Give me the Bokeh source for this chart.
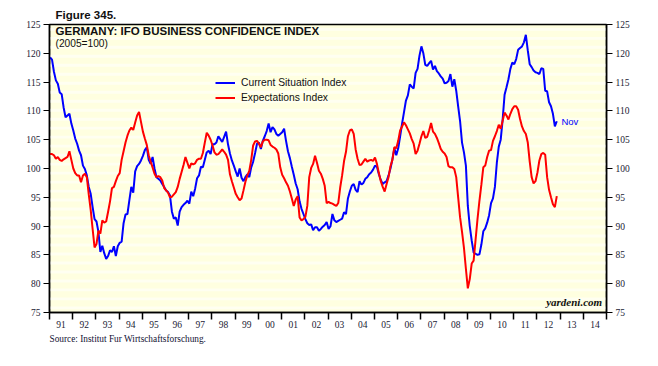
import numpy as np
from bokeh.plotting import figure
from bokeh.models import (LinearAxis, FixedTicker, Range1d, Label, Legend,
                          LegendItem, Title)
from bokeh.embed import file_html
from bokeh.resources import INLINE

start_year = 1991

current_situation = [
    119.3, 118.9, 116.8, 115.3, 114.7, 113.2, 112.9, 110.6, 108.9, 109.2, 109.5, 107.8,  # 1991
    106.6, 105.2, 104.3, 103.1, 102.3, 100.5, 99.9, 98.8, 96.8, 95.6, 93.3, 91.2,       # 1992
    90.8, 89.0, 85.5, 86.6, 85.3, 84.3, 84.8, 85.8, 85.5, 86.5, 84.8, 86.5,             # 1993
    87.1, 87.3, 90.5, 92.0, 92.1, 94.5, 96.8, 95.8, 99.5, 100.4, 100.8, 101.4,          # 1994
    102.2, 103.2, 103.7, 101.5, 100.8, 102.0, 100.0, 98.5, 98.2, 97.9, 97.3, 96.8,      # 1995
    96.2, 95.9, 95.3, 92.5, 91.3, 91.5, 90.1, 92.5, 93.3, 93.7, 94.0, 94.4,             # 1996
    93.9, 96.0, 95.2, 96.5, 98.3, 98.8, 100.3, 100.2, 101.5, 102.8, 103.1, 102.5,       # 1997
    104.2, 104.2, 104.5, 105.6, 105.1, 104.6, 105.5, 106.4, 104.2, 102.6, 101.4, 100.5, # 1998
    99.5, 98.6, 100.0, 98.4, 97.8, 98.5, 99.0, 98.5, 100.2, 101.2, 102.7, 104.3,        # 1999
    104.5, 103.4, 104.8, 105.6, 106.5, 107.8, 106.3, 107.2, 106.8, 106.0, 105.7, 106.0, # 2000
    106.3, 106.9, 104.8, 103.0, 101.8, 100.3, 98.9, 97.4, 96.4, 94.3, 93.0, 92.1,       # 2001
    91.2, 90.5, 90.2, 90.3, 89.3, 89.8, 89.8, 89.2, 89.5, 89.9, 90.2, 90.7,             # 2002
    89.5, 90.0, 92.1, 91.0, 90.7, 90.9, 91.1, 91.3, 92.4, 92.1, 94.8, 96.0,             # 2003
    97.0, 97.3, 96.3, 95.9, 97.8, 97.2, 97.5, 98.2, 98.5, 99.0, 99.3, 99.8,             # 2004
    100.5, 100.3, 99.0, 98.0, 97.3, 97.6, 97.8, 98.8, 100.0, 101.6, 103.5, 102.3,       # 2005
    103.5, 105.6, 107.8, 109.8, 111.8, 112.7, 114.6, 114.2, 113.9, 116.6, 117.3, 119.6, # 2006
    121.2, 120.0, 118.0, 117.8, 118.3, 118.7, 117.2, 117.8, 116.9, 116.5, 116.0, 115.6, # 2007
    114.8, 114.9, 115.2, 116.4, 114.2, 115.5, 113.5, 110.8, 108.2, 104.5, 102.8, 100.5, # 2008
    93.5, 90.0, 87.5, 85.4, 85.2, 85.0, 85.1, 86.8, 89.1, 89.6, 90.6, 91.9,             # 2009
    94.0, 94.8, 96.8, 101.0, 103.8, 105.0, 108.5, 112.8, 114.1, 115.5, 117.3, 118.4,    # 2010
    118.1, 119.0, 120.6, 120.9, 121.2, 121.9, 123.2, 120.5, 118.1, 117.6, 117.0, 116.7, # 2011
    116.6, 116.4, 117.4, 117.3, 113.5, 113.4, 111.5, 110.8, 109.5, 107.3, 108.2,        # 2012 (to Nov)
]

expectations = [
    102.5, 102.5, 102.3, 101.7, 102.0, 101.5, 101.3, 101.6, 101.8, 102.0, 103.0, 101.5, # 1991
    100.0, 99.2, 98.8, 98.8, 97.6, 98.8, 99.1, 98.5, 95.5, 92.8, 89.5, 86.3,            # 1992
    86.9, 89.2, 88.7, 91.0, 90.6, 90.8, 92.5, 94.3, 96.6, 96.8, 97.8, 98.7,             # 1993
    99.2, 101.5, 103.0, 104.5, 105.7, 106.6, 107.1, 106.7, 108.0, 109.2, 109.8, 108.1,  # 1994
    106.4, 105.2, 104.1, 102.3, 101.2, 100.2, 99.1, 98.5, 98.7, 98.5, 97.9, 96.6,       # 1995
    96.2, 95.8, 95.0, 95.1, 95.5, 95.9, 96.8, 98.2, 99.4, 100.6, 102.0, 101.0,          # 1996
    100.0, 100.9, 100.7, 100.9, 101.5, 101.7, 101.7, 102.7, 104.5, 106.2, 105.7, 105.0, # 1997
    104.0, 102.8, 102.4, 102.5, 102.9, 103.3, 102.9, 102.4, 101.5, 99.0, 97.8, 96.7,    # 1998
    95.6, 95.0, 94.5, 94.8, 96.2, 97.7, 98.8, 99.6, 101.5, 104.0, 104.7, 104.8,         # 1999
    104.3, 103.7, 104.7, 105.0, 105.0, 104.9, 104.1, 103.8, 103.6, 103.3, 102.6, 100.2, # 2000
    98.9, 98.3, 97.6, 97.0, 96.0, 94.8, 93.5, 94.6, 95.2, 91.5, 91.0, 91.2,             # 2001
    91.6, 93.5, 98.5, 100.1, 100.8, 102.2, 101.0, 99.6, 99.1, 98.2, 97.0, 94.0,         # 2002
    94.2, 94.0, 93.9, 93.7, 93.5, 94.0, 96.7, 98.8, 101.3, 102.9, 105.6, 106.6,         # 2003
    106.8, 106.0, 103.3, 101.7, 100.6, 100.7, 101.2, 101.7, 101.2, 101.4, 101.5, 101.3, # 2004
    101.9, 100.8, 99.2, 97.8, 96.8, 96.0, 97.3, 98.5, 100.4, 101.5, 103.7, 103.5,       # 2005
    104.8, 106.6, 107.3, 108.0, 107.5, 106.8, 106.1, 105.1, 104.3, 102.5, 103.1, 104.3, # 2006
    105.6, 106.5, 105.3, 105.5, 106.6, 107.9, 106.4, 106.0, 105.3, 104.4, 103.4, 102.9, # 2007
    102.6, 102.0, 100.4, 100.2, 100.2, 99.9, 98.5, 95.0, 91.5, 89.0, 86.2, 82.6,        # 2008
    79.2, 80.8, 83.5, 84.0, 87.6, 91.2, 94.4, 97.2, 100.2, 100.5, 102.0, 103.1,         # 2009
    103.2, 104.8, 105.6, 106.5, 107.6, 106.9, 108.3, 109.7, 109.2, 108.5, 109.5, 110.3, # 2010
    110.8, 110.8, 110.2, 108.6, 107.3, 106.5, 106.0, 104.5, 101.2, 98.5, 97.4, 97.8,    # 2011
    99.3, 101.4, 102.5, 102.7, 102.4, 98.5, 96.3, 95.0, 93.8, 93.3, 95.2,               # 2012 (to Nov)
]

year_labels = ["91", "92", "93", "94", "95", "96", "97", "98", "99", "00", "01", "02",
               "03", "04", "05", "06", "07", "08", "09", "10", "11", "12", "13", "14"]
y_ticks = [75, 80, 85, 90, 95, 100, 105, 110, 115, 120, 125]

months = np.arange(len(current_situation))
x = start_year + (months + 0.3) / 12.0
end_year = start_year + len(year_labels)
y_lo, y_hi = y_ticks[0], y_ticks[-1]

p = figure(width=650, height=358, output_backend="svg", toolbar_location=None,
           x_range=Range1d(start_year, end_year), y_range=Range1d(y_lo, y_hi),
           min_border_left=49, min_border_right=44, min_border_top=24,
           min_border_bottom=46)

p.background_fill_color = "#FFFFE0"
p.border_fill_color = "white"
p.outline_line_color = "black"
p.outline_line_width = 1.5
p.xgrid.visible = False
p.ygrid.visible = False

# faint horizontal banding of the background
band_y = np.arange(y_lo + 0.8, y_hi, 1.56)
p.hbar(y=band_y, height=0.5, left=start_year, right=end_year,
       fill_color="white", fill_alpha=0.55, line_alpha=0, level="underlay")

axis_font = "Liberation Serif"
label_color = "#1a1a33"

# bottom axis: labels centred in each year, ticks at year boundaries
centers = [start_year + i + 0.5 for i in range(len(year_labels))]
bounds = [start_year + i for i in range(len(year_labels) + 1)]
xa = p.xaxis[0]
xa.ticker = FixedTicker(ticks=centers, minor_ticks=bounds)
xa.major_label_overrides = {c: lab for c, lab in zip(centers, year_labels)}
xa.major_tick_in = 0
xa.major_tick_out = 0
xa.minor_tick_in = 0
xa.minor_tick_out = 7
xa.minor_tick_line_color = "black"
xa.minor_tick_line_width = 1.5
xa.axis_line_width = 1.5
xa.major_label_standoff = 1
xa.major_label_text_font = axis_font
xa.major_label_text_font_size = "9.5px"
xa.major_label_text_color = label_color

def style_y(ax):
    ax.ticker = FixedTicker(ticks=y_ticks)
    ax.major_tick_in = 0
    ax.major_tick_out = 6
    ax.minor_tick_out = 0
    ax.minor_tick_in = 0
    ax.major_tick_line_width = 1.2
    ax.axis_line_width = 1.5
    ax.major_label_standoff = 3
    ax.major_label_text_font = axis_font
    ax.major_label_text_font_size = "9.5px"
    ax.major_label_text_color = label_color

style_y(p.yaxis[0])
right_axis = LinearAxis()
style_y(right_axis)
p.add_layout(right_axis, "right")

r_cur = p.line(x, current_situation, line_color="#0000FF", line_width=2)
r_exp = p.line(x, expectations, line_color="#FF0000", line_width=2)

legend = Legend(items=[LegendItem(label="Current Situation Index", renderers=[r_cur]),
                       LegendItem(label="Expectations Index", renderers=[r_exp])],
                location=(166, 207), background_fill_alpha=0, border_line_alpha=0,
                label_text_font="Liberation Sans", label_text_font_size="10.3px",
                label_text_color="#111111",
                glyph_width=20, glyph_height=15, label_height=15, spacing=0,
                padding=0, margin=0, label_standoff=6)
p.add_layout(legend)

# figure number above the frame
p.title.text = "Figure 345."
p.title.align = "left"
p.title.offset = 6
p.title.standoff = 7
p.title.text_font = "Liberation Sans"
p.title.text_font_style = "bold"
p.title.text_font_size = "11.5px"
p.title.text_color = "#111111"

# source note below the axis
p.add_layout(Title(text="Source:  Institut Fur Wirtschaftsforschung.", align="left",
                   offset=0, standoff=2, text_font="Liberation Serif",
                   text_font_style="normal", text_font_size="9.3px",
                   text_color="#111133"), "below")

p.add_layout(Label(x=start_year + 0.26, y=122.9,
                   text="GERMANY: IFO BUSINESS CONFIDENCE INDEX",
                   text_font="Liberation Sans", text_font_style="bold",
                   text_font_size="11.5px", text_color="#111111"))
p.add_layout(Label(x=start_year + 0.26, y=120.8, text="(2005=100)",
                   text_font="Liberation Sans", text_font_size="10.2px",
                   text_color="#111111"))
p.add_layout(Label(x=end_year - 0.19, y=75.7, text="yardeni.com", text_align="right",
                   text_font="Liberation Serif", text_font_style="bold italic",
                   text_font_size="11px", text_color="#111111"))
p.add_layout(Label(x=x[-1] + 0.2, y=current_situation[-1], text="Nov",
                   text_baseline="middle", text_font="Liberation Sans",
                   text_font_size="9.5px", text_color="#0000FF"))

open("out.html", "w").write(file_html(p, INLINE))
